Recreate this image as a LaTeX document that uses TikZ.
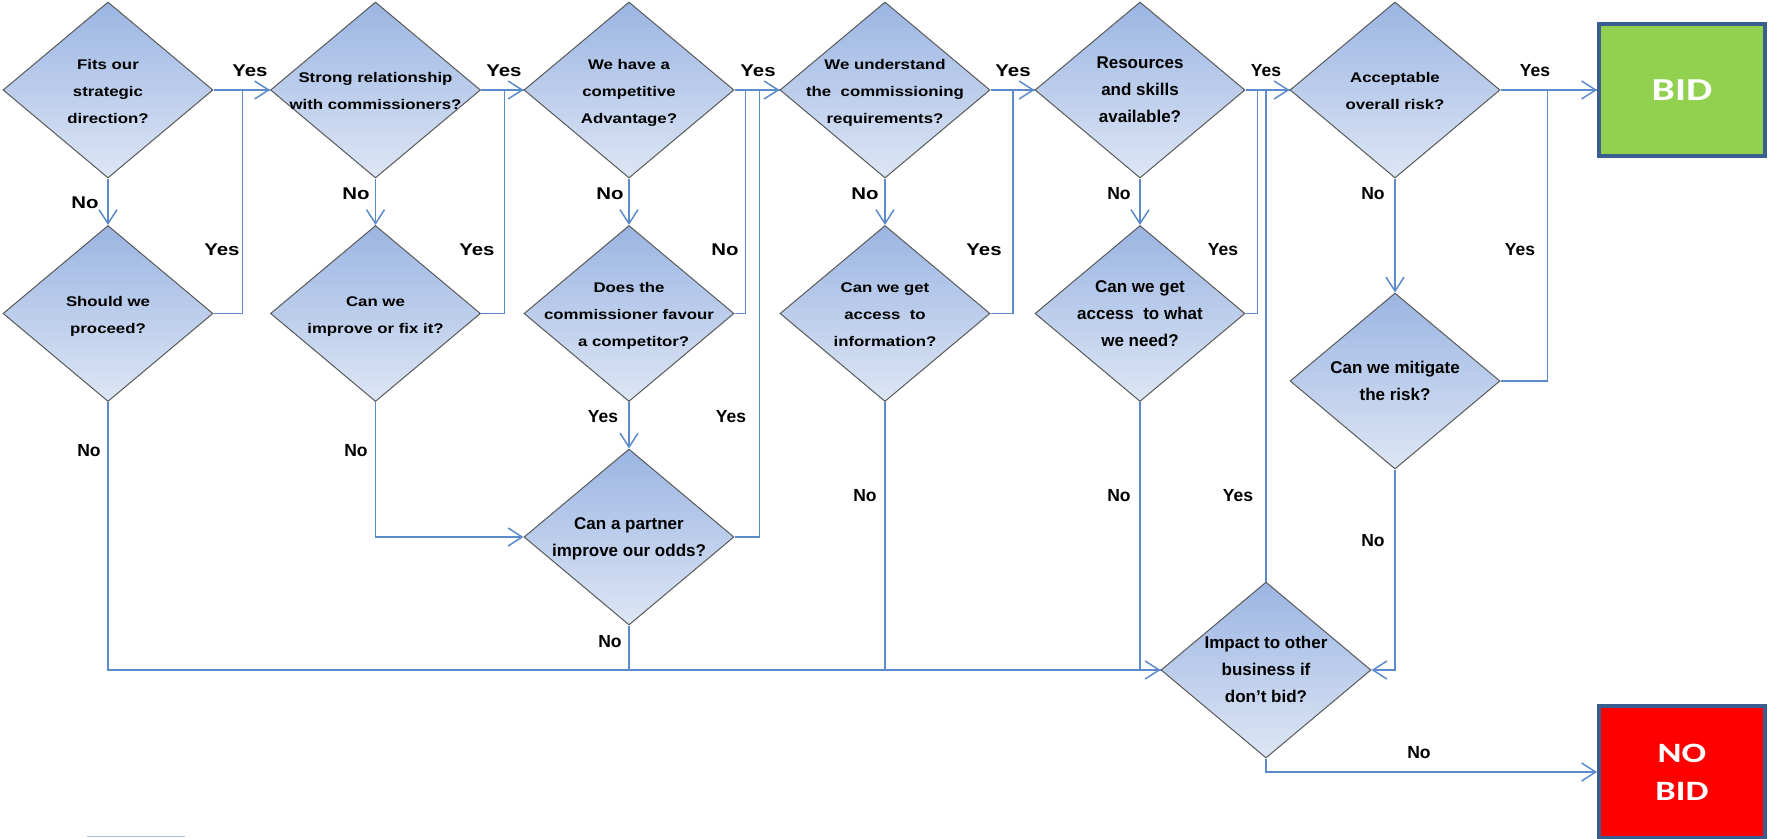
\documentclass[tikz,border=0pt]{standalone}
\usepackage{fontspec}
\setmainfont{Liberation Sans}
\newfontfamily\widefont[FakeStretch=1.2]{Liberation Sans}
\newfontfamily\boxfont[FakeStretch=1.3]{Carlito}
\usetikzlibrary{shapes.geometric, arrows.meta}

\definecolor{linkblue}{HTML}{5B8BCB}
\definecolor{diatop}{HTML}{9BB5E2}
\definecolor{diabot}{HTML}{DDE6F5}
\definecolor{diaedge}{HTML}{595959}
\definecolor{bidgreen}{HTML}{92D050}
\definecolor{nobidred}{HTML}{FF0000}
\definecolor{boxedge}{HTML}{3A5F8E}
\definecolor{straygray}{HTML}{A9BADA}

\newcommand{\qlines}[1]{\smash{\makebox[0pt]{\raisebox{-4.5pt}{%
    \begin{tabular}{@{}c@{}}#1\end{tabular}}}}}

\begin{document}
\begin{tikzpicture} [
    x=1pt, y=-1pt,
    question/.style = {diamond, draw=diaedge, line width=1pt,
        top color=diatop, bottom color=diabot,
        minimum width=210pt, minimum height=176pt, inner sep=0pt},
    wide/.style = {question, font=\fontsize{14}{27}\widefont\bfseries},
    narrow/.style = {question, font=\fontsize{17}{27}\selectfont\bfseries},
    outcome/.style = {rectangle, draw=boxedge, line width=4pt,
        minimum width=166pt, minimum height=132pt, text=white, align=center},
    link/.style = {color=linkblue, draw=linkblue, line width=1.5pt},
    arrow/.style = {link, -{Straight Barb[length=14pt, width=18pt]}},
    yes/.style = {font=\fontsize{17}{20}\widefont\bfseries},
    no/.style = {font=\fontsize{17.5}{20}\selectfont\bfseries}]
    % \draw [help lines, step=100] (0,0) grid (1768,838);
    \useasboundingbox (0,0) rectangle (1768,838);

    \node (fit) [wide] at (108,90) {\qlines{Fits our\\strategic\\direction?}};
    \node (proceed) [wide] at (108,313.5) {\qlines{Should we\\proceed?}};
    \node (relation) [wide] at (375.5,90) {\qlines{Strong relationship\\with commissioners?}};
    \node (improve) [wide] at (375.5,313.5) {\qlines{Can we\\improve or fix it?}};
    \node (advantage) [wide] at (629,90) {\qlines{We have a\\competitive\\Advantage?}};
    \node (favour) [wide] at (629,313.5) {\qlines{Does the\\commissioner favour\\~~a competitor?}};
    \node (partner) [narrow] at (629,537) {\qlines{Can a partner\\improve our odds?}};
    \node (understand) [wide] at (885,90) {\qlines{We understand\\the~~commissioning\\requirements?}};
    \node (access) [wide] at (885,313.5) {\qlines{Can we get\\access~~to\\information?}};
    \node (resources) [narrow] at (1140,90) {\qlines{Resources\\and skills\\available?}};
    \node (need) [narrow] at (1140,313.5) {\qlines{Can we get\\access~~to what\\we need?}};
    \node (risk) [wide] at (1395,90) {\qlines{Acceptable\\overall risk?}};
    \node (mitigate) [narrow] at (1395,381) {\qlines{Can we mitigate\\the risk?}};
    \node (impact) [narrow] at (1266,670) {\qlines{Impact to other\\business if\\don't bid?}};
    \node (bid) [outcome, fill=bidgreen,
        font=\fontsize{32}{36}\boxfont\bfseries] at (1682,90) {BID};
    \node (nobid) [outcome, fill=nobidred,
        font=\fontsize{28}{38}\boxfont\bfseries] at (1682,772) {NO\\BID};

    \path [arrow]
        (fit) edge (relation)
        (relation) edge (advantage)
        (advantage) edge (understand)
        (understand) edge (resources)
        (resources) edge (risk)
        (risk) edge (bid)
        (fit) edge (proceed)
        (relation) edge (improve)
        (advantage) edge (favour)
        (favour) edge (partner)
        (understand) edge (access)
        (resources) edge (need)
        (risk) edge (mitigate);

    \draw [link] (proceed.east) -- ++(29,0) |- (relation.west);
    \draw [link] (improve.east) -- ++(23.5,0) |- (advantage.west);
    \draw [link] (favour.east) -- ++(11,0) |- (understand.west);
    \draw [link] (partner.east) -- ++(25,0) |- (understand.west);
    \draw [link] (access.east) -- ++(22.5,0) |- (resources.west);
    \draw [link] (need.east) -- ++(12,0) |- (risk.west);
    \draw [link] (impact.north) |- (risk.west);
    \draw [link] (mitigate.east) -- ++(47,0) |- (bid.west);
    \draw [arrow] (improve.south) |- (partner.west);
    \draw [arrow] (proceed.south) |- (impact.west);
    \draw [link] (partner.south) |- (impact.west);
    \draw [link] (access.south) |- (impact.west);
    \draw [link] (need.south) |- (impact.west);
    \draw [arrow] (mitigate.south) |- (impact.east);
    \draw [arrow] (impact.south) |- (nobid.west);

    \node (y1) [yes] at (250,71) {Yes};
    \node (y2) [yes] at (222,250) {Yes};
    \node (n1) [yes] at (85,203) {No};
    \node (y3) [yes] at (504,71) {Yes};
    \node (y4) [yes] at (477,250) {Yes};
    \node (n2) [yes] at (356,194) {No};
    \node (y5) [yes] at (758,71) {Yes};
    \node (n3) [yes] at (610,194) {No};
    \node (n4) [yes] at (725,250) {No};
    \node (y6) [yes] at (1013,71) {Yes};
    \node (n5) [yes] at (865,194) {No};
    \node (y7) [yes] at (984,250) {Yes};
    \node (n6) [no] at (89,451) {No};
    \node (n7) [no] at (356,451) {No};
    \node (y8) [no] at (603,417) {Yes};
    \node (y9) [no] at (731,417) {Yes};
    \node (n8) [no] at (610,642) {No};
    \node (n9) [no] at (865,496) {No};
    \node (y10) [no] at (1266,71) {Yes};
    \node (n10) [no] at (1119,194) {No};
    \node (y11) [no] at (1223,250) {Yes};
    \node (n11) [no] at (1119,496) {No};
    \node (y12) [no] at (1238,496) {Yes};
    \node (y13) [no] at (1535,71) {Yes};
    \node (n12) [no] at (1373,194) {No};
    \node (y14) [no] at (1520,250) {Yes};
    \node (n13) [no] at (1373,541) {No};
    \node (n14) [no] at (1419,753) {No};

    \coordinate (s1) at (87,836.5);
    \coordinate (s2) at (185,836.5);
    \draw [straygray, line width=1.5pt] (s1) -- (s2);
\end{tikzpicture}
\end{document}
